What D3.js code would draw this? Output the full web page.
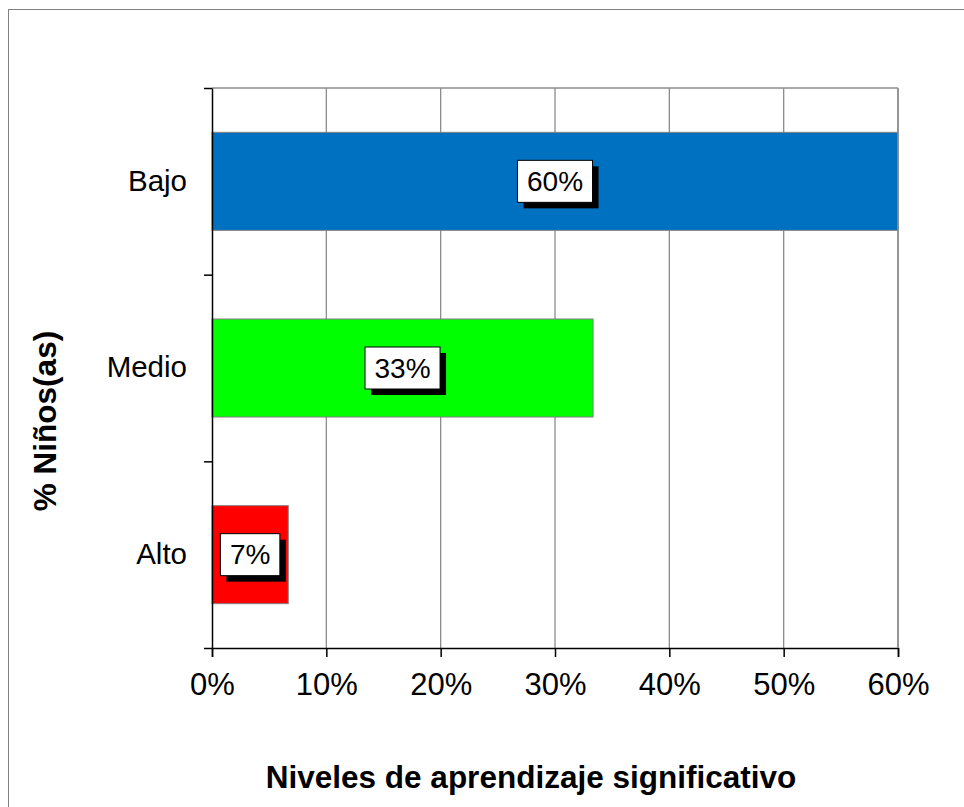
<!DOCTYPE html>
<html>
<head>
<meta charset="utf-8">
<script src="https://cdn.jsdelivr.net/npm/d3@7"></script>
<style>
  body { margin: 0; background: #fff; }
  svg { font-family: "Liberation Sans", Arial, sans-serif; }
</style>
</head>
<body>
<div id="chart"></div>
<script>
// data
var categories = ["Bajo", "Medio", "Alto"];
var values = [0.60, 0.3333, 0.0667];
var xTicks = [0, 0.1, 0.2, 0.3, 0.4, 0.5, 0.6];

var barColors = ["#0070C0", "#00FF00", "#FF0000"];

var W = 964, H = 807;
var margin = { top: 88, left: 212, right: 66, bottom: 159 },
    width = W - margin.left - margin.right,
    height = H - margin.top - margin.bottom;

var svg = d3.select("#chart").append("svg")
    .attr("width", W)
    .attr("height", H);

// outer chart border (runs past the right and bottom edge)
svg.append("rect")
    .attr("x", 8.5).attr("y", 9.5)
    .attr("width", 1000).attr("height", 1000)
    .attr("fill", "none")
    .attr("stroke", "#808080")
    .attr("stroke-width", 1);

var g = svg.append("g")
    .attr("transform", "translate(" + margin.left + "," + margin.top + ")");

var x = d3.scaleLinear()
    .domain([0, 0.6])
    .range([0, width]);

var y = d3.scaleBand()
    .domain(categories)
    .range([0, height])
    .paddingInner(0.475)
    .paddingOuter(0.2375);

var yEdges = d3.scaleLinear()
    .domain([0, categories.length])
    .range([0, height]);

// grid lines
g.selectAll(".grid")
    .data(xTicks.slice(1))
    .enter().append("line")
    .attr("class", "grid")
    .attr("x1", function (d) { return x(d); })
    .attr("x2", function (d) { return x(d); })
    .attr("y1", 0)
    .attr("y2", height)
    .attr("stroke", "#8c8c8c")
    .attr("stroke-width", 1.3);

// top border of plot area
g.append("line")
    .attr("x1", 0).attr("x2", width)
    .attr("y1", 0).attr("y2", 0)
    .attr("stroke", "#8c8c8c")
    .attr("stroke-width", 1.3);

// bars
g.selectAll(".bar")
    .data(values)
    .enter().append("rect")
    .attr("class", "bar")
    .attr("x", 0)
    .attr("y", function (d, i) { return y(categories[i]); })
    .attr("width", function (d) { return x(d); })
    .attr("height", y.bandwidth())
    .attr("fill", function (d, i) { return barColors[i]; })
    .attr("stroke", "#808080")
    .attr("stroke-width", 1);

// x axis
var xAxis = d3.axisBottom(x)
    .tickValues(xTicks)
    .tickFormat(d3.format(".0%"))
    .tickSize(9)
    .tickPadding(16);

var gx = g.append("g")
    .attr("transform", "translate(0," + height + ")")
    .call(xAxis);
gx.select(".domain").attr("stroke", "#000").attr("stroke-width", 1.5);
gx.selectAll(".tick line").attr("stroke", "#000").attr("stroke-width", 1.5);
gx.selectAll(".tick text")
    .attr("font-size", 31)
    .attr("fill", "#000");

// y axis: tick marks at category edges
var gyTicks = g.append("g")
    .call(d3.axisLeft(yEdges)
        .tickValues(d3.range(categories.length + 1))
        .tickSize(8)
        .tickSizeOuter(0)
        .tickFormat(""));
gyTicks.select(".domain").attr("stroke", "#000").attr("stroke-width", 1.5);
gyTicks.selectAll(".tick line").attr("stroke", "#000").attr("stroke-width", 1.5);

// y axis: category labels
var gyLabels = g.append("g")
    .call(d3.axisLeft(y).tickSize(0).tickPadding(25));
gyLabels.select(".domain").remove();
gyLabels.selectAll(".tick text")
    .attr("font-size", 29.5)
    .attr("fill", "#000");

// right border of plot area
g.append("line")
    .attr("x1", width).attr("x2", width)
    .attr("y1", 0).attr("y2", height)
    .attr("stroke", "#8c8c8c")
    .attr("stroke-width", 1.5);

// value labels with shadowed boxes
var fmt = d3.format(".0%");
var labels = g.selectAll(".lbl")
    .data(values)
    .enter().append("g")
    .attr("class", "lbl")
    .attr("transform", function (d, i) {
        return "translate(" + x(d / 2) + "," + (y(categories[i]) + y.bandwidth() / 2) + ")";
    });

labels.each(function (d) {
    var grp = d3.select(this);
    var t = grp.append("text")
        .attr("text-anchor", "middle")
        .attr("dy", "0.35em")
        .attr("font-size", 28)
        .attr("fill", "#000")
        .text(fmt(d));
    var tw = t.node().getComputedTextLength();
    var bw = tw + 19, bh = 42;
    grp.insert("rect", "text")
        .attr("x", -bw / 2 + 6).attr("y", -bh / 2 + 6)
        .attr("width", bw).attr("height", bh)
        .attr("fill", "#000");
    grp.insert("rect", "text")
        .attr("x", -bw / 2).attr("y", -bh / 2)
        .attr("width", bw).attr("height", bh)
        .attr("fill", "#fff")
        .attr("stroke", "#000")
        .attr("stroke-width", 1);
});

// axis titles
svg.append("text")
    .attr("x", 531)
    .attr("y", 788)
    .attr("text-anchor", "middle")
    .attr("font-size", 31.5)
    .attr("font-weight", "bold")
    .text("Niveles de aprendizaje significativo");

svg.append("text")
    .attr("transform", "translate(56,421) rotate(-90)")
    .attr("text-anchor", "middle")
    .attr("font-size", 31.5)
    .attr("font-weight", "bold")
    .text("% Niños(as)");
</script>
</body>
</html>
